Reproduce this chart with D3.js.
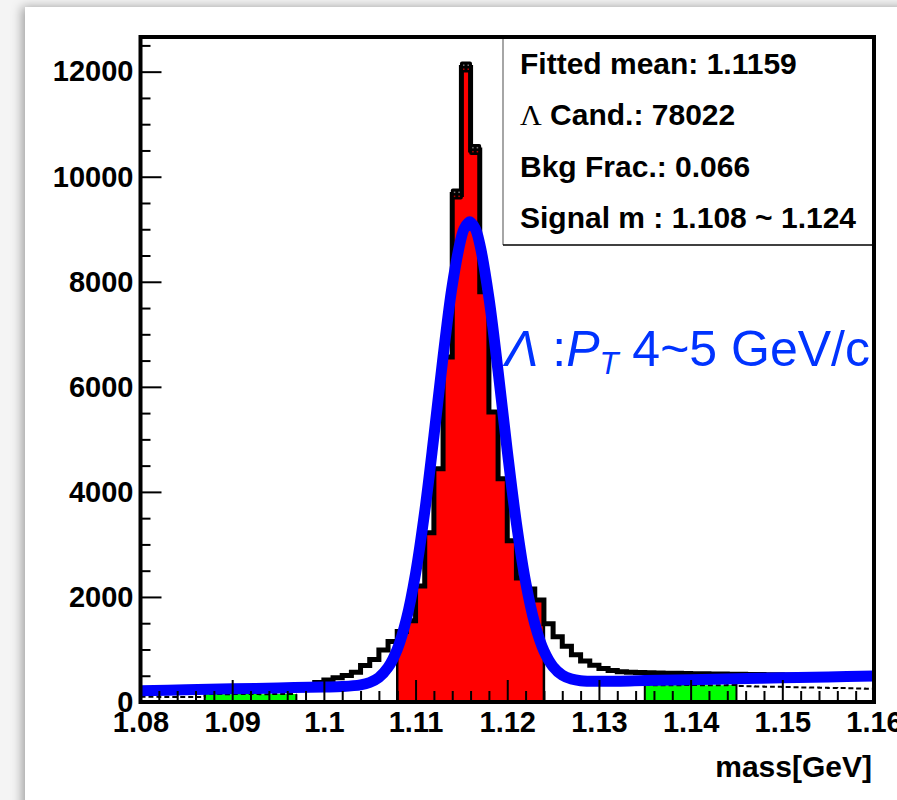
<!DOCTYPE html>
<html>
<head>
<meta charset="utf-8">
<script src="https://cdn.jsdelivr.net/npm/d3@7"></script>
<style>
html, body { margin:0; padding:0; background:#f4f4f4; overflow:hidden; }
#canvas { position:absolute; left:25px; top:7px; width:900px; height:820px; background:#fff;
          box-shadow:-3px 0 10px rgba(0,0,0,0.35); }
#chart { position:absolute; left:0; top:0; }
text { font-family:"Liberation Sans", Arial, Helvetica, sans-serif; }
</style>
</head>
<body>
<div id="canvas"></div>
<svg id="chart" width="897" height="800"></svg>
<script>
// ---- data ----
const binWidth = 0.001;
const binLow = d3.range(80).map(i => +(1.08 + i * binWidth).toFixed(3));

// Lambda candidates per bin (main histogram)
const counts = [
  190, 195, 200, 200, 205, 210, 215,
  220, 225, 228, 232, 236, 240, 248, 255, 262, 275,
  290, 320, 370, 420, 460, 505, 565, 695, 810, 990, 1150,
  1340, 1545, 2210, 3220, 4440, 6570, 9660, 12080, 10510, 7810, 5520, 4250, 3070, 2360, 2150, 1940,
  1490, 1240, 1060, 900, 780, 700, 640, 600, 575, 565, 560,
  555, 550, 548, 545, 542, 540, 538, 535, 532, 530,
  528, 525, 522, 520, 518, 515, 512, 510, 508, 505, 502, 500, 498, 495, 492
];

// side / background histogram (null = not drawn)
const bkgCounts = [
  100, 98, 97, 96, 95, 95, 94,
  150, 152, 148, 150, 153, 150, 148, 151, 152, 150,
  null, null, null, null, null, null, null, null, null, null, null,
  null, null, null, null, null, null, null, null, null, null, null, null, null, null, null, null,
  null, null, null, null, null, null, null, null, null, null, null,
  322, 320, 318, 321, 325, 322, 320, 318, 320, 322,
  305, 300, 296, 292, 288, 285, 282, 278, 275, 272, 268, 265, 260, 256, 250
];

const signalRange = [1.108, 1.124];
const sidebands = [[1.087, 1.097], [1.135, 1.145]];

// fitted curve (gaus + linear)
const fitMass = [1.080, 1.085, 1.090, 1.095, 1.100, 1.102, 1.104, 1.105, 1.106, 1.107, 1.108, 1.109,
  1.110, 1.111, 1.112, 1.113, 1.114, 1.115, 1.1153, 1.1159, 1.1165, 1.117, 1.118, 1.119, 1.120,
  1.121, 1.122, 1.123, 1.124, 1.125, 1.126, 1.127, 1.128, 1.130, 1.135, 1.140, 1.145, 1.150, 1.155, 1.160];
const fitValue = [215, 233, 250, 268, 285, 295, 326, 371, 467, 657, 1002, 1578,
  2445, 3627, 5059, 6574, 7929, 8851, 9011, 9141, 9015, 8721, 7697, 6298, 4787,
  3404, 2289, 1490, 973, 672, 513, 438, 405, 393, 408, 425, 443, 460, 478, 495];

const xTicks = [1.08, 1.09, 1.10, 1.11, 1.12, 1.13, 1.14, 1.15, 1.16];
const xTickLabels = ["1.08", "1.09", "1.1", "1.11", "1.12", "1.13", "1.14", "1.15", "1.16"];
const yTicks = [0, 2000, 4000, 6000, 8000, 10000, 12000];

const statsLines = [
  ["", "Fitted mean: 1.1159"],
  ["\u039B", " Cand.: 78022"],
  ["", "Bkg Frac.: 0.066"],
  ["", "Signal m : 1.108 ~ 1.124"]
];

// ---- layout ----
const frame = {left:140.5, right:874, top:37, bottom:702};

const x = d3.scaleLinear().domain([1.08, 1.16]).range([frame.left, frame.right]);
const y = d3.scaleLinear().domain([0, 12660]).range([frame.bottom, frame.top]);

const svg = d3.select("#chart");

svg.append("clipPath").attr("id", "frameClip")
  .append("rect")
  .attr("x", frame.left).attr("y", frame.top)
  .attr("width", frame.right - frame.left).attr("height", frame.bottom - frame.top);

const plot = svg.append("g").attr("clip-path", "url(#frameClip)");

const bins = binLow.map((b, i) => ({lo: b, hi: +(b + binWidth).toFixed(3), n: counts[i], bkg: bkgCounts[i]}));
const inRange = (b, r) => b.lo >= r[0] - 1e-9 && b.hi <= r[1] + 1e-9;

const stepLine = d3.line()
  .x(d => x(d[0])).y(d => y(d[1]))
  .curve(d3.curveStepAfter);
const stepArea = d3.area()
  .x(d => x(d[0])).y0(y(0)).y1(d => y(d[1]))
  .curve(d3.curveStepAfter);

// pts for a run of bins, closing the last bin
const stepPts = (list, key) => {
  const p = list.map(b => [b.lo, b[key]]);
  const last = list[list.length - 1];
  p.push([last.hi, last[key]]);
  return p;
};

// sideband fills (green)
sidebands.forEach(r => {
  const sb = bins.filter(b => b.bkg != null && inRange(b, r));
  plot.append("path")
    .attr("d", stepArea(stepPts(sb, "bkg")))
    .attr("fill", "#00ff00");
  plot.append("line")
    .attr("x1", x(sb[0].lo)).attr("x2", x(sb[0].lo))
    .attr("y1", y(0)).attr("y2", y(sb[0].bkg))
    .attr("stroke", "#000").attr("stroke-width", 2);
  const l = sb[sb.length - 1];
  plot.append("line")
    .attr("x1", x(l.hi)).attr("x2", x(l.hi))
    .attr("y1", y(0)).attr("y2", y(l.bkg))
    .attr("stroke", "#000").attr("stroke-width", 2);
});

// dotted background outline
const bkgRuns = [];
let run = null;
bins.forEach(b => {
  if (b.bkg == null) { run = null; return; }
  if (!run) { run = []; bkgRuns.push(run); }
  run.push(b);
});

plot.selectAll(".bkgLine")
  .data(bkgRuns)
  .enter().append("path")
  .attr("class", "bkgLine")
  .attr("d", r => stepLine(stepPts(r, "bkg")))
  .attr("fill", "none")
  .attr("stroke", "#000")
  .attr("stroke-width", 2)
  .attr("stroke-dasharray", "5,3");

// signal fill (red)
const sigBins = bins.filter(b => inRange(b, signalRange));
plot.append("path")
  .attr("d", stepArea(stepPts(sigBins, "n")))
  .attr("fill", "#ff0000");

[sigBins[0], sigBins[sigBins.length - 1]].forEach((b, i) => {
  const edge = i === 0 ? b.lo : b.hi;
  plot.append("line")
    .attr("x1", x(edge)).attr("x2", x(edge))
    .attr("y1", y(0)).attr("y2", y(b.n))
    .attr("stroke", "#000").attr("stroke-width", 2.5);
});

// main histogram outline
plot.append("path")
  .attr("d", stepLine(stepPts(bins, "n")))
  .attr("fill", "none")
  .attr("stroke", "#000")
  .attr("stroke-width", 5)
  .attr("stroke-linejoin", "miter");

// error-bar markers at the peak bins (only those stick out above the line)
const mk = plot.selectAll(".mk")
  .data(bins.filter(b => b.n > 9000))
  .enter().append("g")
  .attr("class", "mk")
  .attr("transform", d => `translate(${x((d.lo + d.hi) / 2)},${y(d.n)})`);
mk.append("rect")
  .attr("x", -6).attr("y", -6).attr("width", 12).attr("height", 11)
  .attr("rx", 2).attr("fill", "#000");
mk.append("rect").attr("x", -3).attr("y", -3).attr("width", 1.5).attr("height", 1.5).attr("fill", "#777");
mk.append("rect").attr("x", 1.5).attr("y", -3).attr("width", 1.5).attr("height", 1.5).attr("fill", "#777");
mk.append("rect").attr("x", -3).attr("y", 1).attr("width", 1.5).attr("height", 1.5).attr("fill", "#b00");
mk.append("rect").attr("x", 1.5).attr("y", 1).attr("width", 1.5).attr("height", 1.5).attr("fill", "#b00");

// fit curve
const fitLine = d3.line()
  .x(d => x(d[0])).y(d => y(d[1]))
  .curve(d3.curveCatmullRom.alpha(0.5));
plot.append("path")
  .attr("d", fitLine(fitMass.map((m, i) => [m, fitValue[i]])))
  .attr("fill", "none")
  .attr("stroke", "#0000ff")
  .attr("stroke-width", 11)
  .attr("stroke-linejoin", "round");

// ---- axes ----
const yAxis = svg.append("g")
  .attr("transform", `translate(${frame.left},0)`)
  .call(d3.axisLeft(y).tickValues(yTicks).tickSize(-21).tickPadding(7).tickFormat(d3.format("d")));
const yMinor = svg.append("g")
  .attr("transform", `translate(${frame.left},0)`)
  .call(d3.axisLeft(y).tickValues(d3.range(0, 12600, 500).filter(v => v % 2000 !== 0)).tickSize(-10).tickFormat(""));

const xAxis = svg.append("g")
  .attr("transform", `translate(0,${frame.bottom})`)
  .call(d3.axisBottom(x).tickValues(xTicks).tickSize(-22).tickPadding(9).tickFormat((d, i) => xTickLabels[i]));
const xMinor = svg.append("g")
  .attr("transform", `translate(0,${frame.bottom})`)
  .call(d3.axisBottom(x).tickValues(d3.range(0, 40).map(i => 1.08 + i * 0.002).filter((v, i) => i % 5 !== 0)).tickSize(-11).tickFormat(""));

[yAxis, yMinor, xAxis, xMinor].forEach(g => {
  g.select(".domain").remove();
  g.selectAll(".tick line").attr("stroke", "#000").attr("stroke-width", 2);
  g.selectAll("text")
    .attr("fill", "#000")
    .style("font-family", '"Liberation Sans", Arial, sans-serif')
    .style("font-size", "29px")
    .style("font-weight", "bold");
});

// ---- stats box ----
const box = {x:503, y:frame.top, w:frame.right - 503, h:245 - frame.top};
svg.append("rect")
  .attr("x", box.x).attr("y", box.y).attr("width", box.w).attr("height", box.h)
  .attr("fill", "#fff");
svg.append("line")
  .attr("x1", box.x).attr("x2", box.x).attr("y1", box.y).attr("y2", box.y + box.h)
  .attr("stroke", "#888").attr("stroke-width", 1.5);
svg.append("line")
  .attr("x1", box.x).attr("x2", box.x + box.w).attr("y1", box.y + box.h).attr("y2", box.y + box.h)
  .attr("stroke", "#000").attr("stroke-width", 1.5);

const statText = svg.append("g");
statsLines.forEach((ln, i) => {
  const t = statText.append("text")
    .attr("x", 520).attr("y", 74 + i * 51.3)
    .style("font-size", "30px").style("font-weight", "bold").attr("fill", "#000");
  if (ln[0]) {
    t.append("tspan").text(ln[0])
      .style("font-family", '"Liberation Serif", "Times New Roman", serif')
      .style("font-weight", "normal");
  }
  t.append("tspan").text(ln[1]);
});

// frame
svg.append("rect")
  .attr("x", frame.left).attr("y", frame.top)
  .attr("width", frame.right - frame.left).attr("height", frame.bottom - frame.top)
  .attr("fill", "none").attr("stroke", "#000").attr("stroke-width", 4);

// ---- pT label ----
const lab = svg.append("text")
  .attr("x", 505).attr("y", 366)
  .attr("fill", "#0033ff")
  .style("font-size", "50px");
lab.append("tspan").text("\u039B").style("font-style", "italic");
lab.append("tspan").text(" :");
lab.append("tspan").text("P").style("font-style", "italic");
lab.append("tspan").text("T").style("font-style", "italic").style("font-size", "31px").attr("dy", 8);
lab.append("tspan").text(" 4~5 GeV/c").attr("dy", -8);

// x title
svg.append("text")
  .attr("x", 872).attr("y", 777)
  .attr("text-anchor", "end")
  .style("font-size", "30px").style("font-weight", "bold")
  .text("mass[GeV]");
</script>
</body>
</html>
